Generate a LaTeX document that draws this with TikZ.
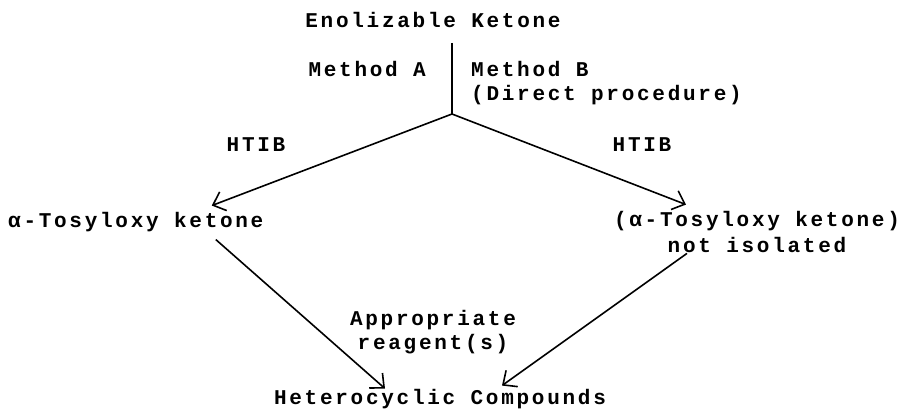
\documentclass[tikz,border=0pt]{standalone}
\usepackage{fontspec}
\usepackage{tikz}
\usetikzlibrary{arrows.meta}
\newfontfamily\twfont[LetterSpace=13]{Liberation Mono}

\begin{document}
\begin{tikzpicture}[x=1pt,y=-1pt,
    lbl/.style={font=\twfont\fontsize{21}{24}\selectfont\bfseries, inner sep=0pt},
    arr/.style={line width=1.6pt, -{Straight Barb[length=11pt,width=20pt,line width=1.6pt]}}]
            \useasboundingbox (0,0) rectangle (903,411);
            \node[lbl, anchor=base] (enol) at (433,28) {Enolizable Ketone};
            \coordinate (top) at (452,43);
            \coordinate (junc) at (452,114);
            \draw[line width=1.6pt] (top) -- (junc);
            \node[lbl, anchor=base east] (methA) at (426,77) {Method A};
            \node[lbl, anchor=base west, align=left] (methB) at (471,101) {Method B\\(Direct procedure)};
            \node[lbl, anchor=base] (htibL) at (256,152) {HTIB};
            \node[lbl, anchor=base] (htibR) at (642,152) {HTIB};
            \node[lbl, anchor=base west] (tosA) at (8,228) {α-Tosyloxy ketone};
            \node[lbl, anchor=base, align=center,
                  font=\twfont\fontsize{21}{26}\selectfont\bfseries] (tosB) at (757,253) {(α-Tosyloxy ketone)\\not isolated};
            \node[lbl, anchor=base, align=center] (reag) at (433,350) {Appropriate\\reagent(s)};
            \node[lbl, anchor=base] (het) at (440,405) {Heterocyclic Compounds};
            \draw[arr] (junc) -- ([xshift=76pt,yshift=7pt]tosA.north);
            \draw[arr] (junc) -- ([xshift=-71pt,yshift=7pt]tosB.north);
            \draw[arr] ([xshift=80pt,yshift=-7pt]tosA.south) -- ([xshift=-55pt,yshift=1pt]het.north);
            \draw[arr] ([xshift=-70pt,yshift=0pt]tosB.south) -- ([xshift=62pt,yshift=4pt]het.north);
        \end{tikzpicture}
\end{document}
